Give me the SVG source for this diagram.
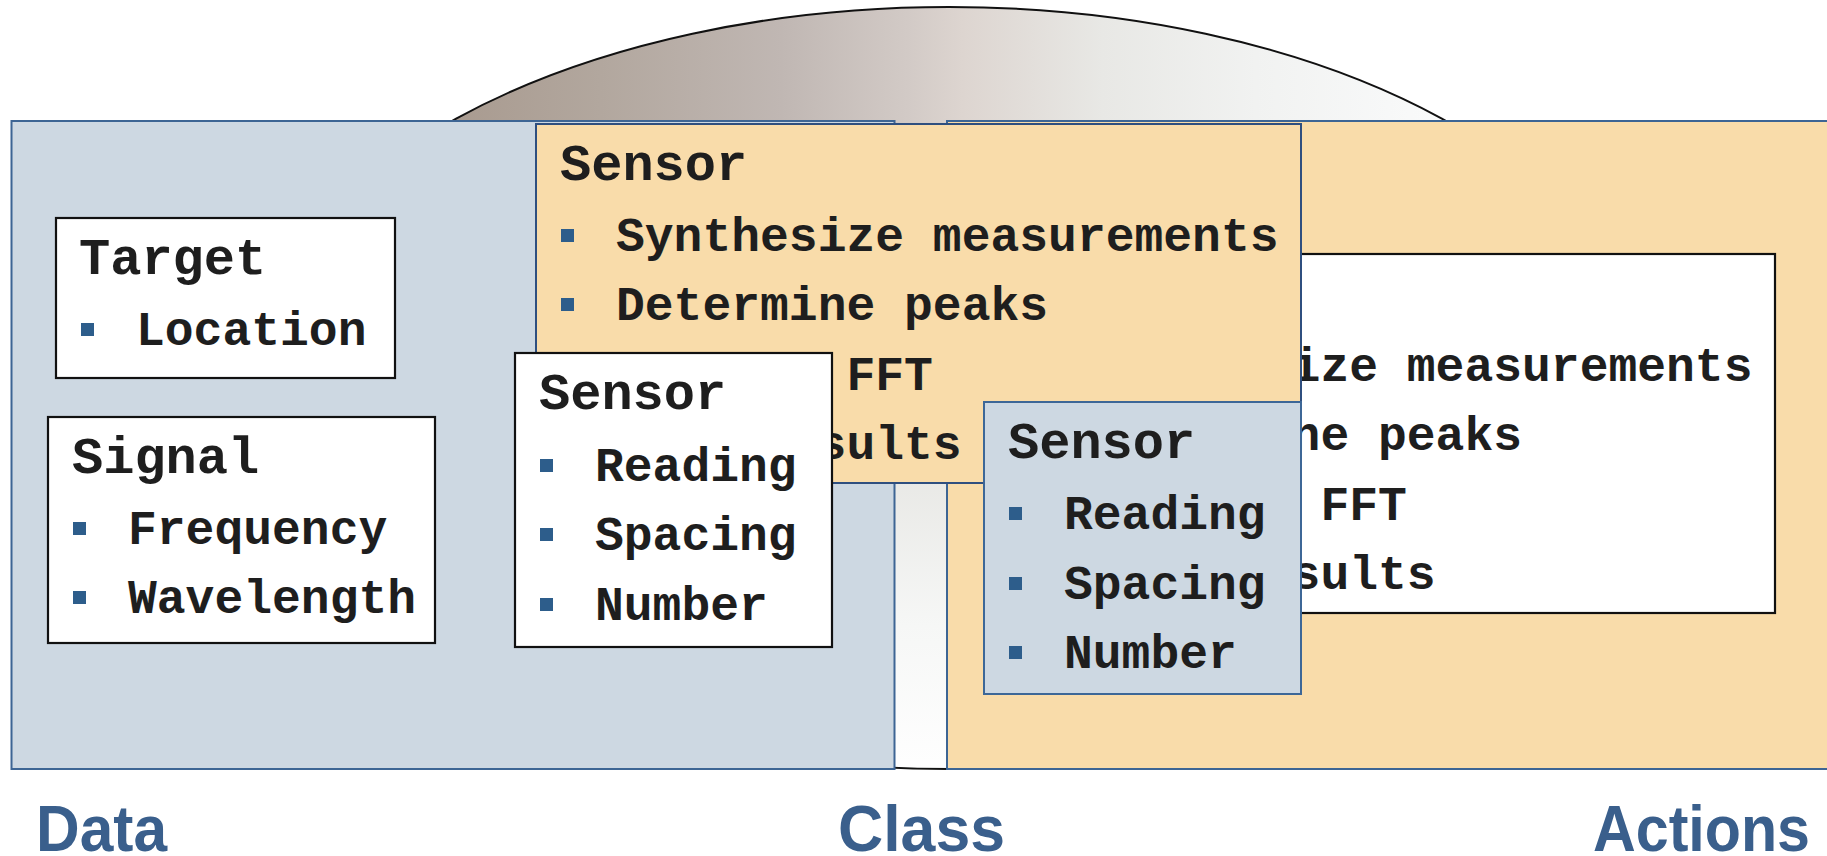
<svg xmlns="http://www.w3.org/2000/svg" width="1827" height="856" viewBox="0 0 1827 856">
<defs>
<linearGradient id="dome" gradientUnits="userSpaceOnUse" x1="252" y1="0" x2="1646" y2="0">
<stop offset="0" stop-color="#9a8a7e"/>
<stop offset="0.146" stop-color="#a99b90"/>
<stop offset="0.25" stop-color="#b2a79e"/>
<stop offset="0.38" stop-color="#c0b7b3"/>
<stop offset="0.47" stop-color="#d2cac6"/>
<stop offset="0.51" stop-color="#ddd5d0"/>
<stop offset="0.61" stop-color="#e8e8e5"/>
<stop offset="0.72" stop-color="#f1f2f1"/>
<stop offset="0.83" stop-color="#f8f9f9"/>
<stop offset="1" stop-color="#ffffff"/>
</linearGradient>
<linearGradient id="strip" x1="0" y1="0" x2="0" y2="1">
<stop offset="0" stop-color="#e8e8e5"/>
<stop offset="0.5" stop-color="#f6f7f6"/>
<stop offset="1" stop-color="#ffffff"/>
</linearGradient>
<clipPath id="domeClip">
<ellipse cx="949" cy="388" rx="697" ry="381"/>
</clipPath>
<style>
.panel-blue{fill:#cdd8e2;stroke:#3d6594;stroke-width:2}
.panel-orange{fill:#f9dcaa;stroke:#3d6594;stroke-width:2}
.box-white{fill:#ffffff;stroke:#111111;stroke-width:2.2}
.box-orange{fill:#f9dcaa;stroke:#2f4f7f;stroke-width:2}
.box-blue{fill:#cdd8e2;stroke:#3d6797;stroke-width:2}
.title{font-family:"Liberation Mono","Courier New",monospace;font-weight:bold;font-size:52px;fill:#1e1e1e}
.item{font-family:"Liberation Mono","Courier New",monospace;font-weight:bold;font-size:48px;fill:#1e1e1e}
.bul{fill:#2d5d8b}
.label{font-family:"Liberation Sans",Arial,sans-serif;font-weight:bold;font-size:64px;fill:#3a5f8c}
</style>
</defs>
<rect width="1827" height="856" fill="#ffffff"/>
<g id="class-dome">
<ellipse cx="949" cy="388" rx="697" ry="381" fill="url(#dome)"/>
<rect x="890" y="470" width="62" height="310" fill="url(#strip)" clip-path="url(#domeClip)"/>
<ellipse cx="949" cy="388" rx="697" ry="381" fill="none" stroke="#111111" stroke-width="2"/>
</g>
<g id="data-panel">
<rect class="panel-blue" x="11.5" y="121" width="883" height="648"/>
</g>
<g id="actions-panel">
<rect class="panel-orange" x="947" y="121" width="900" height="648"/>
</g>
<g id="sensor-actions-right">
<rect class="box-white" x="1010" y="254" width="765" height="359"/>
<text class="item" x="1291.6" y="381">ize measurements</text>
<text class="item" x="1291.6" y="450">ne peaks</text>
<text class="item" x="1320.4" y="520">FFT</text>
<text class="item" x="1291.6" y="589">sults</text>
</g>
<g id="sensor-class">
<rect class="box-orange" x="536" y="124" width="765" height="359"/>
<text class="title" x="560" y="180">Sensor</text>
<rect class="bul" x="561" y="229" width="13" height="13"/>
<text class="item" x="616" y="251">Synthesize measurements</text>
<rect class="bul" x="561" y="298" width="13" height="13"/>
<text class="item" x="616" y="320">Determine peaks</text>
<text class="item" x="846.4" y="390">FFT</text>
<text class="item" x="817.6" y="459">sults</text>
</g>
<g id="target">
<rect class="box-white" x="56" y="218" width="339" height="160"/>
<text class="title" x="79" y="274">Target</text>
<rect class="bul" x="81" y="323" width="13" height="13"/>
<text class="item" x="136" y="345">Location</text>
</g>
<g id="signal">
<rect class="box-white" x="48" y="417" width="387" height="226"/>
<text class="title" x="72" y="473">Signal</text>
<rect class="bul" x="73" y="522" width="13" height="13"/>
<text class="item" x="128" y="544">Frequency</text>
<rect class="bul" x="73" y="591" width="13" height="13"/>
<text class="item" x="128" y="613">Wavelength</text>
</g>
<g id="sensor-data">
<rect class="box-white" x="515" y="353" width="317" height="294"/>
<text class="title" x="539" y="409">Sensor</text>
<rect class="bul" x="540" y="459" width="13" height="13"/>
<text class="item" x="595" y="481">Reading</text>
<rect class="bul" x="540" y="528" width="13" height="13"/>
<text class="item" x="595" y="550">Spacing</text>
<rect class="bul" x="540" y="598" width="13" height="13"/>
<text class="item" x="595" y="620">Number</text>
</g>
<g id="sensor-actions">
<rect class="box-blue" x="984" y="402" width="317" height="292"/>
<text class="title" x="1008" y="458">Sensor</text>
<rect class="bul" x="1009" y="507" width="13" height="13"/>
<text class="item" x="1064" y="529">Reading</text>
<rect class="bul" x="1009" y="577" width="13" height="13"/>
<text class="item" x="1064" y="599">Spacing</text>
<rect class="bul" x="1009" y="646" width="13" height="13"/>
<text class="item" x="1064" y="668">Number</text>
</g>
<g id="connectors"></g>
<g id="labels">
<text class="label" x="36" y="851" textLength="131" lengthAdjust="spacingAndGlyphs">Data</text>
<text class="label" x="838" y="851" textLength="167" lengthAdjust="spacingAndGlyphs">Class</text>
<text class="label" x="1593" y="851" textLength="217" lengthAdjust="spacingAndGlyphs">Actions</text>
</g>
</svg>
